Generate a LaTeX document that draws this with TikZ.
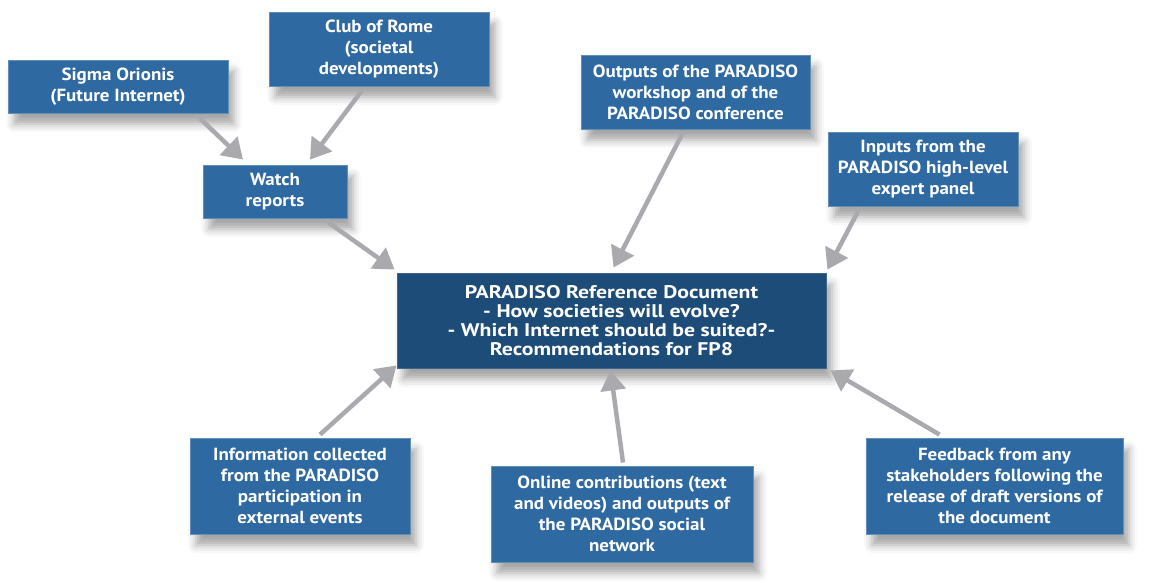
\documentclass[tikz,border=0pt]{standalone}
\usepackage{fontspec}
\setmainfont{PT Sans}
\newfontfamily\boxfont{PT Sans}[FakeStretch=1.08]
\newfontfamily\mainfont{PT Sans}[FakeStretch=1.19]
\usetikzlibrary{
  positioning,
  arrows.meta,
  shadows.blur
}
\usepackage{xcolor}
\definecolor{boxblue}{RGB}{47,105,162}
\definecolor{darkblue}{RGB}{29,76,121}
\definecolor{arrowgray}{RGB}{170,170,174}
\tikzstyle{arrow}     = [line width=3.2pt,draw=arrowgray,-{Triangle[length=5mm,width=6.2mm]}]

\begin{document}
\begin{tikzpicture}[x=0.025cm,y=-0.025cm,
bluebox/.style={rectangle, draw=white!25!boxblue, fill=boxblue, text=white, line width=0.6pt,
  font=\boxfont\bfseries\fontsize{12.5}{15}\selectfont, align=center, inner sep=0pt,
  blur shadow={shadow xshift=1.5mm, shadow yshift=-2.8mm, shadow opacity=35, shadow blur radius=2mm}},
mainbox/.style={bluebox, fill=darkblue, draw=white!15!darkblue,
  font=\mainfont\bfseries\fontsize{13}{13.5}\selectfont},
]
\useasboundingbox (0,0) rectangle (1163,583);
%Nodes
\node[bluebox, minimum width=220*0.025cm, minimum height=53*0.025cm] (sigma)    at (118,86.5) {Sigma Orionis\\(Future Internet)};
\node[bluebox, minimum width=220*0.025cm, minimum height=74*0.025cm] (club)     at (379,49)   {Club of Rome\\(societal\\developments)};
\node[bluebox, minimum width=144*0.025cm, minimum height=53*0.025cm] (watch)    at (275,191.5) {Watch\\reports};
\node[bluebox, minimum width=229*0.025cm, minimum height=74*0.025cm] (outputs)  at (695.5,92) {Outputs of the PARADISO\\workshop and of the\\PARADISO conference};
\node[bluebox, minimum width=190*0.025cm, minimum height=74*0.025cm] (inputs)   at (923,169)  {Inputs from the\\PARADISO high-level\\expert panel};
\node[mainbox, minimum width=429*0.025cm, minimum height=95*0.025cm] (refdoc)   at (611.5,320.5) {PARADISO Reference Document\\- How societies will evolve?\\- Which Internet should be suited?-\\Recommendations for FP8};
\node[bluebox, minimum width=220*0.025cm, minimum height=96*0.025cm] (info)     at (300,486)  {Information collected\\from the PARADISO\\participation in\\external events};
\node[bluebox, minimum width=262*0.025cm, minimum height=96*0.025cm] (online)   at (622,514)  {Online contributions (text\\and videos) and outputs of\\the PARADISO social\\network};
\node[bluebox, minimum width=257*0.025cm, minimum height=96*0.025cm] (feedback) at (994.5,486) {Feedback from any\\stakeholders following the\\release of draft versions of\\the document};

%Lines
\draw[arrow] ([shift={(82,5)}]sigma.south) -- ([shift={(-32,-5)}]watch.north);
\draw[arrow] ([shift={(-17,4)}]club.south) -- ([shift={(35,-5)}]watch.north);
\draw[arrow] ([shift={(-22,2)}]watch.south east) -- ([shift={(-2,-3)}]refdoc.north west);
\draw[arrow] ([shift={(-13,4)}]outputs.south) -- ([shift={(2,-5)}]refdoc.north);
\draw[arrow] ([shift={(32,2)}]inputs.south west) -- ([shift={(1,-3)}]refdoc.north east);
\draw[arrow] ([shift={(20,-3)}]info.north) -- ([shift={(0,-3)}]refdoc.south west);
\draw[arrow] ([shift={(1,-3)}]online.north) -- ([shift={(-1,2)}]refdoc.south);
\draw[arrow] ([shift={(-55,-3)}]feedback.north) -- ([shift={(4,2)}]refdoc.south east);
\end{tikzpicture}
\end{document}
